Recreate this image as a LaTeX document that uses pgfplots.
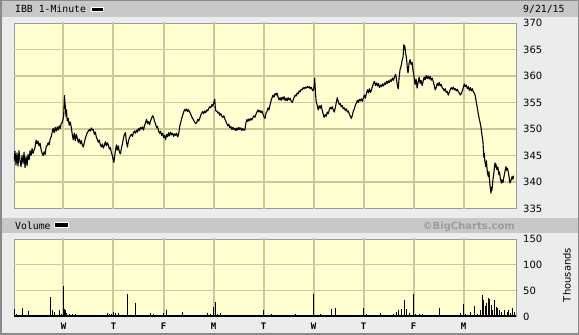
\documentclass[border=0pt]{standalone}
\usepackage{fontspec}
\setmainfont{DejaVu Sans}
\newfontfamily\monofont{DejaVu Sans Mono}
\usepackage{pgfplots}
\pgfplotsset{compat=1.18}
\definecolor{bggrey}{HTML}{ECECEC}
\definecolor{hdrgrey}{HTML}{C8C8C8}
\definecolor{plotbg}{HTML}{FFFFD2}
\definecolor{gridc}{HTML}{C9C997}
\definecolor{daygrid}{HTML}{CACA98}
\definecolor{framec}{HTML}{9A9A9A}
\definecolor{outer}{HTML}{8A8A8A}
\definecolor{bcgrey}{HTML}{9C9C9C}
\begin{document}
\begin{tikzpicture}[x=1pt,y=1pt]
\fill[bggrey] (0,0) rectangle (579,335);
\fill[hdrgrey] (0,318) rectangle (579,335);
\fill[hdrgrey] (0,102.3) rectangle (579,116.7);
\draw[outer, line width=1.5pt] (0.75,0.75) rectangle (578.25,334.25);
% header texts
\node[anchor=base west, inner sep=0pt, font=\monofont\fontsize{9.8}{11}\selectfont] at (15,322.3) {IBB 1-Minute};
\fill[white] (91.3,322.7) rectangle (104.3,328);
\fill[black] (92.3,323.7) rectangle (103.3,327);
\node[anchor=base west, inner sep=0pt, font=\monofont\fontsize{9.8}{11}\selectfont] at (523,322.3) {9/21/15};
\node[anchor=base west, inner sep=0pt, font=\monofont\fontsize{9.8}{11}\selectfont] at (15,105.7) {Volume};
\fill[white] (54,106.7) rectangle (69.3,112.7);
\fill[black] (55,107.7) rectangle (68.3,111.7);
\node[anchor=base east, inner sep=0pt, text=bcgrey, font=\bfseries\fontsize{10}{12}\selectfont] at (515,105.7) {©BigCharts.com};
\node[rotate=90, inner sep=0pt, font=\fontsize{10}{12}\selectfont] at (567,60) {Thousands};

\begin{axis}[
  at={(14pt,126.5pt)}, anchor=south west, scale only axis,
  width=502pt, height=185.5pt,
  xmin=0.01, xmax=10.05, ymin=335, ymax=370,
  axis background/.style={fill=plotbg},
  axis line style={draw=framec, line width=0.8pt},
  xtick=\empty, ytick={335,340,...,370}, yticklabel pos=right,
  major tick length=0pt,
  yticklabel style={inner sep=0pt, xshift=7pt, font=\fontsize{10}{12}\selectfont},
  /pgf/number format/assume math mode=true,
]
\pgfplotsinvokeforeach{340,345,...,365}{\draw[gridc, line width=1.1pt] (axis cs:0,#1) -- (axis cs:10.1,#1);}
\pgfplotsinvokeforeach{1,...,9}{\draw[daygrid, line width=2pt] (axis cs:#1,330) -- (axis cs:#1,375);}
\addplot[black, line width=1.1pt, line join=round, mark=none] table[header=false, x expr=\thisrowno{0}*1.004+0.01, y expr=\thisrowno{1}] {
0.00 344.0
0.02 345.8
0.04 343.2
0.06 345.5
0.08 343.0
0.10 345.9
0.12 344.0
0.14 342.9
0.16 345.0
0.18 343.5
0.20 345.6
0.22 342.7
0.24 344.8
0.26 343.1
0.28 345.2
0.30 344.2
0.32 345.9
0.34 345.0
0.36 346.3
0.38 345.4
0.40 346.0
0.42 346.6
0.44 347.9
0.46 347.2
0.48 347.7
0.50 346.8
0.52 347.3
0.54 346.1
0.56 345.4
0.58 345.0
0.60 345.7
0.62 345.2
0.64 346.6
0.66 346.9
0.68 347.4
0.70 347.0
0.72 348.1
0.74 348.5
0.76 349.4
0.78 350.1
0.80 349.3
0.82 350.3
0.84 349.6
0.86 350.4
0.88 349.8
0.90 350.6
0.92 350.1
0.94 351.0
0.96 351.2
0.98 352.0
0.99 352.6
1.005 356.3
1.015 355.0
1.025 354.0
1.035 352.4
1.045 353.6
1.06 351.5
1.08 352.0
1.10 350.7
1.12 351.3
1.14 350.4
1.16 349.0
1.18 348.0
1.20 349.2
1.22 347.8
1.24 349.0
1.26 348.3
1.28 347.5
1.30 348.1
1.32 347.2
1.34 347.8
1.36 347.0
1.38 346.6
1.40 347.4
1.42 348.2
1.44 348.8
1.46 349.3
1.48 349.6
1.50 349.9
1.52 349.6
1.54 350.2
1.56 349.8
1.58 349.9
1.60 349.0
1.62 349.4
1.64 348.5
1.66 348.0
1.68 347.5
1.70 347.9
1.72 347.0
1.74 346.6
1.76 347.2
1.78 346.4
1.80 346.9
1.82 347.6
1.84 346.8
1.86 347.4
1.88 347.0
1.90 346.2
1.92 346.5
1.94 345.5
1.96 345.0
1.98 344.0
1.99 343.7
2.00 344.5
2.02 345.8
2.04 347.0
2.06 346.0
2.08 346.8
2.10 345.6
2.12 345.3
2.14 346.4
2.16 347.2
2.18 348.2
2.20 349.0
2.22 349.3
2.24 347.5
2.26 346.6
2.28 347.8
2.30 348.3
2.32 348.8
2.34 349.0
2.36 348.6
2.38 349.3
2.40 349.6
2.42 349.2
2.44 349.8
2.46 349.4
2.48 350.1
2.50 349.7
2.52 350.3
2.54 350.0
2.56 350.4
2.58 349.8
2.60 350.6
2.62 351.2
2.64 351.8
2.66 351.0
2.68 351.4
2.70 350.8
2.72 351.5
2.74 352.0
2.76 352.5
2.78 352.2
2.80 351.4
2.82 351.0
2.84 350.2
2.86 350.5
2.88 349.6
2.90 349.2
2.92 349.6
2.94 348.8
2.96 349.2
2.98 348.4
3.00 348.8
3.02 348.0
3.04 349.0
3.06 348.5
3.08 349.3
3.10 348.7
3.12 349.4
3.14 348.9
3.16 349.2
3.18 348.6
3.20 349.1
3.22 348.8
3.24 349.2
3.26 348.5
3.28 349.0
3.30 350.4
3.32 351.2
3.34 352.0
3.36 352.6
3.38 353.2
3.40 353.7
3.42 353.4
3.44 353.8
3.46 353.3
3.48 353.6
3.50 353.2
3.52 352.8
3.54 352.3
3.56 352.0
3.58 351.6
3.60 351.3
3.62 351.0
3.64 351.2
3.66 351.8
3.68 351.5
3.70 352.0
3.72 352.6
3.74 353.0
3.76 353.3
3.78 352.9
3.80 353.4
3.82 353.1
3.84 353.6
3.86 353.4
3.88 353.9
3.90 354.2
3.92 354.0
3.94 354.6
3.96 354.3
3.98 355.0
4.00 355.6
4.01 354.0
4.02 353.4
4.04 353.4
4.06 353.0
4.08 353.2
4.10 352.6
4.12 352.9
4.14 352.4
4.16 352.2
4.18 352.5
4.20 351.9
4.22 351.5
4.24 351.0
4.26 350.6
4.28 350.9
4.30 350.2
4.32 350.5
4.34 349.9
4.36 350.3
4.38 349.9
4.40 350.1
4.42 349.7
4.44 350.2
4.46 349.8
4.48 350.3
4.50 349.9
4.52 350.2
4.54 349.7
4.56 350.1
4.58 349.8
4.60 349.8
4.62 351.2
4.64 351.8
4.66 351.4
4.68 351.9
4.70 351.6
4.72 352.0
4.74 351.7
4.76 352.2
4.78 352.5
4.80 352.2
4.82 352.8
4.84 353.2
4.86 353.6
4.88 353.2
4.90 353.5
4.92 353.1
4.94 353.4
4.96 352.8
4.98 352.3
5.00 352.0
5.02 353.0
5.04 353.3
5.06 354.0
5.08 353.6
5.10 354.5
5.12 355.3
5.14 355.9
5.16 356.4
5.18 356.0
5.20 356.7
5.22 356.4
5.24 356.8
5.26 356.0
5.28 355.5
5.30 355.9
5.32 355.4
5.34 356.0
5.36 355.6
5.38 356.1
5.40 355.4
5.42 355.8
5.44 355.3
5.46 355.9
5.48 355.5
5.50 355.8
5.52 355.3
5.54 355.0
5.56 355.4
5.58 356.0
5.60 356.4
5.62 356.2
5.64 356.8
5.66 356.6
5.68 357.2
5.70 357.0
5.72 357.5
5.74 357.4
5.76 357.8
5.78 357.6
5.80 357.9
5.82 357.7
5.84 358.0
5.86 357.8
5.88 358.0
5.90 357.6
5.92 357.9
5.94 357.4
5.96 357.2
5.98 358.2
5.99 359.6
6.005 356.8
6.02 355.2
6.04 354.5
6.06 353.6
6.08 354.4
6.10 353.9
6.12 354.5
6.14 353.5
6.16 352.8
6.18 352.2
6.20 352.7
6.22 352.4
6.24 353.2
6.26 352.9
6.28 353.6
6.30 354.1
6.32 353.8
6.34 354.2
6.36 353.6
6.38 353.2
6.40 354.0
6.42 355.0
6.44 355.9
6.46 355.2
6.48 354.6
6.50 354.8
6.52 354.2
6.54 354.4
6.56 353.8
6.58 354.0
6.60 353.5
6.62 353.8
6.64 353.2
6.66 353.4
6.68 352.8
6.70 352.4
6.72 352.0
6.74 352.6
6.76 353.4
6.78 353.8
6.80 354.5
6.82 354.9
6.84 355.4
6.86 355.0
6.88 355.6
6.90 355.3
6.92 355.7
6.94 355.2
6.96 355.9
6.98 356.4
7.00 355.8
7.02 356.7
7.04 357.4
7.06 356.8
7.08 357.6
7.10 356.9
7.12 357.3
7.14 358.0
7.16 358.6
7.18 359.0
7.20 358.2
7.22 358.7
7.24 358.1
7.26 358.6
7.28 357.8
7.30 358.3
7.32 358.0
7.34 358.5
7.36 358.1
7.38 358.7
7.40 358.4
7.42 359.0
7.44 358.6
7.46 359.1
7.48 358.8
7.50 359.3
7.52 359.0
7.54 359.6
7.56 359.2
7.58 359.8
7.60 360.3
7.62 359.4
7.64 358.0
7.655 357.6
7.67 359.5
7.69 361.2
7.71 361.8
7.73 362.9
7.75 363.6
7.765 365.9
7.775 365.2
7.785 365.7
7.80 364.4
7.82 363.2
7.84 361.0
7.85 360.6
7.87 362.4
7.89 363.1
7.91 362.2
7.93 362.6
7.95 361.0
7.97 359.8
7.99 358.4
8.01 359.4
8.03 357.7
8.05 358.8
8.07 359.8
8.09 358.6
8.11 359.2
8.13 358.2
8.15 359.0
8.17 359.8
8.19 359.3
8.21 360.1
8.23 359.5
8.25 360.0
8.27 359.4
8.29 359.9
8.31 359.2
8.33 359.6
8.35 359.0
8.37 358.3
8.39 357.4
8.41 357.8
8.43 358.6
8.45 358.2
8.47 358.8
8.49 358.1
8.51 358.4
8.53 357.8
8.55 357.6
8.57 357.2
8.59 357.6
8.61 356.9
8.63 357.1
8.65 356.4
8.67 356.9
8.69 357.4
8.71 357.8
8.73 357.5
8.75 357.9
8.77 357.4
8.79 357.6
8.81 357.2
8.83 357.5
8.85 357.0
8.87 356.8
8.89 356.4
8.91 356.7
8.93 357.2
8.95 357.8
8.97 358.5
8.99 358.0
9.01 358.3
9.03 357.6
9.05 358.0
9.07 357.3
9.09 357.8
9.11 357.2
9.13 357.6
9.15 357.0
9.17 356.8
9.19 356.2
9.21 355.0
9.23 354.0
9.25 352.8
9.27 351.8
9.29 351.0
9.30 350.5
9.32 349.0
9.34 347.8
9.35 346.2
9.36 344.6
9.37 345.4
9.38 343.8
9.40 342.9
9.41 344.0
9.43 341.8
9.45 341.0
9.46 342.0
9.48 339.6
9.50 337.9
9.51 339.0
9.52 338.4
9.54 340.4
9.56 341.8
9.58 343.6
9.59 342.8
9.60 343.4
9.62 342.3
9.64 342.8
9.66 341.4
9.67 341.9
9.69 340.6
9.71 339.8
9.72 340.4
9.74 339.9
9.76 341.0
9.78 342.0
9.80 342.9
9.81 342.2
9.83 342.6
9.85 341.7
9.87 340.4
9.88 339.8
9.90 340.3
9.92 341.0
9.94 340.5
9.95 341.2
};
\end{axis}

\begin{axis}[
  at={(14pt,18.3pt)}, anchor=south west, scale only axis,
  width=502pt, height=77.7pt,
  xmin=0.01, xmax=10.05, ymin=0, ymax=150,
  axis background/.style={fill=plotbg},
  axis line style={draw=framec, line width=0.8pt},
  xtick={1,...,9}, xticklabels={W,T,F,M,T,W,T,F,M},
  xticklabel style={inner sep=0pt, yshift=-6pt, font=\monofont\bfseries\fontsize{9}{10}\selectfont},
  ytick={0,50,100,150}, yticklabel pos=right,
  major tick length=0pt,
  yticklabel style={inner sep=0pt, xshift=7pt, font=\fontsize{10}{12}\selectfont},
  /pgf/number format/assume math mode=true,
]
\pgfplotsinvokeforeach{50,100}{\draw[gridc, line width=1.1pt] (axis cs:0,#1) -- (axis cs:10.1,#1);}
\pgfplotsinvokeforeach{1,...,9}{\draw[daygrid, line width=2pt] (axis cs:#1,-10) -- (axis cs:#1,160);}
\addplot[ycomb, black, line width=0.9pt, mark=none] table[header=false, x expr=\thisrowno{0}*1.004+0.01, y expr=\thisrowno{1}] {
0.007 15
0.05 5
0.10 4
0.17 17
0.29 11
0.40 3
0.55 3
0.72 38
0.76 13
0.80 10
0.90 13
0.94 6
0.98 59
1.00 14
1.02 13
1.05 8
1.10 6
1.16 5
1.22 5
1.34 3
1.66 3
1.86 8
1.90 5
1.95 6
1.99 9
2.03 7
2.08 8
2.26 44
2.41 26
2.60 3
2.72 8
2.77 6
2.89 4
2.97 7
3.04 13
3.17 3
3.36 9
3.85 8
3.91 6
3.97 18
4.02 28
4.06 5
4.11 7
4.97 12
5.13 5
5.60 5
5.75 4
5.85 3
5.96 43
6.10 6
6.33 15.5
6.40 16
6.77 4
6.96 16
7.03 6
7.30 8
7.55 6
7.62 10
7.66 12
7.72 14
7.77 32
7.82 15
7.88 8
7.95 44
8.00 6
8.08 5
8.14 5
8.22 4
8.47 16
8.82 3
8.89 8
8.95 24
9.00 6
9.10 9
9.18 21
9.24 6
9.29 13
9.34 42
9.36 32
9.40 20
9.42 27
9.45 37
9.47 35
9.51 23
9.53 13
9.57 32
9.61 18
9.64 16
9.68 13
9.72 10
9.77 13
9.82 10
9.85 12
9.88 8
9.93 16
9.96 10
};
\draw[black, line width=1.4pt] (axis cs:0.01,1.4) -- (axis cs:10.05,1.4);
\end{axis}
\end{tikzpicture}
\end{document}
